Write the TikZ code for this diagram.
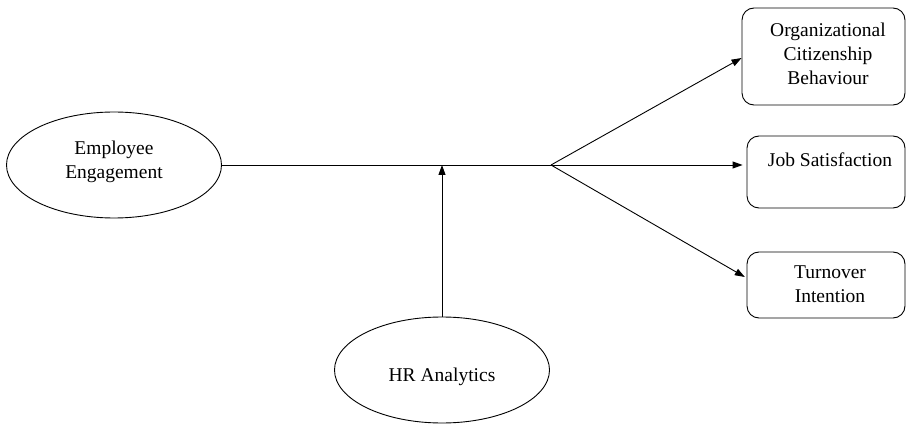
\documentclass[tikz,border=0pt]{standalone}
\usepackage{fontspec}
\setmainfont{Liberation Serif}
\usetikzlibrary{shapes.geometric,arrows.meta,calc}
\begin{document}
\begin{tikzpicture}[x=1pt,y=-1pt,
  every node/.style={font=\fontsize{19.5}{24}\selectfont, inner sep=0pt},
  oval/.style={draw, ellipse, line width=0.9pt, minimum width=215pt, minimum height=106pt},
  rbox/.style={draw, rounded corners=12pt, line width=0.9pt},
  conn/.style={line width=0.9pt},
  arr/.style={line width=0.9pt, -{Triangle[length=10pt,width=7pt]}},
  txt/.style={align=center}]
\useasboundingbox (0,0) rectangle (906,425);
% ellipses
\node[oval] (ee) at (114,165) {};
\node[txt] (eetext) at (114,162) {Employee\\Engagement};
\node[oval] (hr) at (442,370) {};
\node[txt] (hrtext) at ($(hr.center)+(0,7)$) {HR Analytics};
% boxes
\node[rbox, minimum width=163pt, minimum height=97pt] (ocb) at (823.5,56.5) {};
\node[txt] (ocbtext) at (828,54) {Organizational\\Citizenship\\Behaviour};
\node[rbox, minimum width=158pt, minimum height=72pt] (js) at (826,172) {};
\node[txt] (jstext) at (830,160) {Job Satisfaction};
\node[rbox, minimum width=158pt, minimum height=66pt] (to) at (826,285) {};
\node[txt] (totext) at (830,284) {Turnover\\Intention};
% connectors
\coordinate (j) at (551,165);
\draw[conn] (ee.east) -- (j);
\draw[arr] (hr.north) -- (hr.north |- j);
\draw[arr] (j) -- ($(ocb.west)+(0,1.5)$);
\draw[arr, shorten >=4pt] (j) -- (js.west |- j);
\draw[arr, shorten >=2pt] (j) -- ($(to.west)+(0,-7)$);
\end{tikzpicture}
\end{document}
